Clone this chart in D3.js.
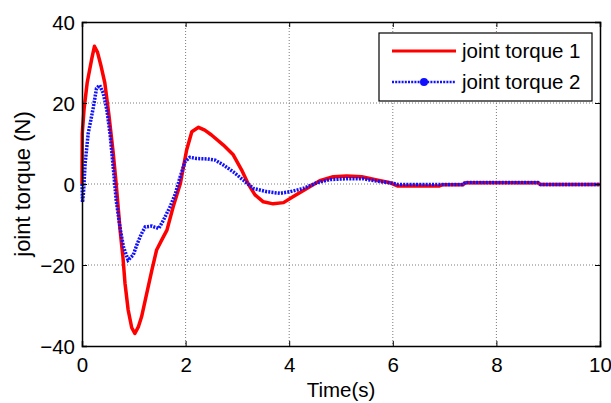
<!DOCTYPE html>
<html>
<head>
<meta charset="utf-8">
<script src="https://cdn.jsdelivr.net/npm/d3@7"></script>
<style>
  html, body { margin: 0; padding: 0; background: #fff; }
  svg { display: block; font-family: Arial, "Liberation Sans", sans-serif; }
</style>
</head>
<body>
<svg id="chart" width="611" height="403"></svg>
<script>
// Joint torque 1 samples (time in s, torque in N)
const time1 = [0, 0.005, 0.04, 0.1, 0.19, 0.24, 0.3, 0.37, 0.44, 0.52, 0.6, 0.66, 0.7, 0.74, 0.79, 0.83, 0.89, 0.96, 1.02, 1.09, 1.15, 1.25, 1.35, 1.44, 1.54, 1.64, 1.76, 1.9, 2.02, 2.12, 2.25, 2.37, 2.5, 2.73, 2.92, 3.08, 3.21, 3.34, 3.5, 3.69, 3.89, 4.08, 4.34, 4.59, 4.85, 5.11, 5.4, 5.69, 5.95, 6.1, 6.9, 6.95, 7.35, 7.4, 8.8, 8.85, 10];
const torque1 = [0, 12.5, 18.5, 25, 31, 34, 32.5, 29, 25, 17, 8, 0, -6, -12, -18, -24.5, -31, -35.5, -36.9, -35.2, -32.8, -27, -21.2, -16.3, -13.8, -11.4, -5.6, 0.2, 8.4, 12.9, 14, 13.3, 12.1, 9.6, 7.2, 3.5, 0, -2.7, -4.4, -4.9, -4.6, -3.1, -1.1, 0.8, 1.8, 2.0, 1.8, 1.0, 0.3, -0.5, -0.5, -0.2, -0.2, 0.3, 0.3, -0.1, -0.1];

// Joint torque 2 samples
const time2 = [0, 0.01, 0.03, 0.06, 0.12, 0.22, 0.28, 0.34, 0.41, 0.48, 0.54, 0.6, 0.66, 0.73, 0.8, 0.89, 0.99, 1.06, 1.14, 1.22, 1.35, 1.48, 1.57, 1.7, 1.8, 1.9, 1.99, 2.08, 2.21, 2.41, 2.57, 2.73, 2.92, 3.11, 3.31, 3.57, 3.82, 4.02, 4.27, 4.53, 4.79, 5.11, 5.43, 5.69, 5.95, 6.1, 7.35, 7.4, 8.8, 8.85, 10];
const torque2 = [0, -4.5, -2, 5, 12.5, 19, 23.6, 24.4, 22.4, 18.3, 12.5, 4.5, -4, -10.5, -15.5, -18.8, -17.5, -15, -12.5, -10.6, -10.4, -11, -9, -5.6, -2.5, 2, 5.5, 6.6, 6.3, 6.2, 5.9, 4.7, 3.0, 1, -1.1, -1.9, -2.3, -1.9, -1.1, 0.3, 1.1, 1.3, 1.3, 0.7, 0.3, -0.1, -0.1, 0.4, 0.4, -0.1, -0.1];

const xTicks = [0, 2, 4, 6, 8, 10];
const yTicks = [-40, -20, 0, 20, 40];
const seriesNames = ["joint torque 1", "joint torque 2"];

const W = 611, H = 403;
const margin = { left: 82, right: 11, top: 22, bottom: 57 };
const iw = W - margin.left - margin.right;
const ih = H - margin.top - margin.bottom;

const svg = d3.select("#chart");
const g = svg.append("g").attr("transform", `translate(${margin.left},${margin.top})`);

const x = d3.scaleLinear().domain([0, 10]).range([0, iw]);
const y = d3.scaleLinear().domain([-40, 40]).range([ih, 0]);

// background of the plotting area
g.append("rect").attr("width", iw).attr("height", ih).attr("fill", "#fff");

// dotted grid
g.append("g").selectAll("line").data(xTicks.slice(1, -1)).join("line")
  .attr("x1", d => x(d)).attr("x2", d => x(d)).attr("y1", 0).attr("y2", ih)
  .attr("stroke", "#7a7a7a").attr("stroke-width", 1).attr("stroke-dasharray", "1,2");
g.append("g").selectAll("line").data(yTicks.slice(1, -1)).join("line")
  .attr("y1", d => y(d)).attr("y2", d => y(d)).attr("x1", 0).attr("x2", iw)
  .attr("stroke", "#7a7a7a").attr("stroke-width", 1).attr("stroke-dasharray", "1,2");

// series lines
const line = d3.line().x(d => x(d[0])).y(d => y(d[1]));
g.append("clipPath").attr("id", "plotclip").append("rect")
  .attr("x", -2).attr("y", -2).attr("width", iw + 4).attr("height", ih + 4);

g.append("path")
  .datum(time1.map((t, i) => [t, torque1[i]]))
  .attr("d", line).attr("fill", "none")
  .attr("stroke", "#ff0000").attr("stroke-width", 3.5)
  .attr("stroke-linejoin", "round")
  .attr("clip-path", "url(#plotclip)");

g.append("path")
  .datum(time2.map((t, i) => [t, torque2[i]]))
  .attr("d", line).attr("fill", "none")
  .attr("stroke", "#1010ff").attr("stroke-width", 3.5)
  .attr("stroke-dasharray", "2,1.2")
  .attr("clip-path", "url(#plotclip)");

// axes with inward ticks on all four sides
const tickLen = 5;
const fontSize = 20.5;
const xAxis = g.append("g").attr("transform", `translate(0,${ih})`)
  .call(d3.axisBottom(x).tickValues(xTicks).tickSize(-tickLen).tickPadding(11).tickFormat(d3.format("d")));
const xAxisTop = g.append("g")
  .call(d3.axisTop(x).tickValues(xTicks).tickSize(-tickLen).tickFormat(""));
const yAxis = g.append("g")
  .call(d3.axisLeft(y).tickValues(yTicks).tickSize(-tickLen).tickPadding(7).tickFormat(d3.format("d")));
const yAxisRight = g.append("g").attr("transform", `translate(${iw},0)`)
  .call(d3.axisRight(y).tickValues(yTicks).tickSize(-tickLen).tickFormat(""));

[xAxis, xAxisTop, yAxis, yAxisRight].forEach(a => {
  a.select(".domain").attr("stroke", "#000").attr("stroke-width", 1.5);
  a.selectAll(".tick line").attr("stroke", "#000");
  a.selectAll("text").attr("fill", "#000").style("font-size", fontSize + "px")
    .style("font-family", "Arial, 'Liberation Sans', sans-serif");
});
yAxis.selectAll("text").attr("dy", "0.36em");

// axis titles
svg.append("text")
  .attr("x", margin.left + iw / 2).attr("y", 397)
  .attr("text-anchor", "middle").style("font-size", fontSize + "px")
  .text("Time(s)");
svg.append("text")
  .attr("transform", `translate(30,${margin.top + ih / 2}) rotate(-90)`)
  .attr("text-anchor", "middle").style("font-size", "22px")
  .text("joint torque (N)");

// legend
const lg = svg.append("g").attr("transform", "translate(379,33)");
lg.append("rect").attr("width", 213).attr("height", 68)
  .attr("fill", "#fff").attr("stroke", "#000").attr("stroke-width", 1.2);
const rows = [
  { name: seriesNames[0], color: "#ff0000", dash: null, marker: false },
  { name: seriesNames[1], color: "#1010ff", dash: "2,1.2", marker: true }
];
rows.forEach((r, i) => {
  const yy = 18 + i * 31;
  lg.append("line").attr("x1", 13).attr("x2", 77).attr("y1", yy).attr("y2", yy)
    .attr("stroke", r.color).attr("stroke-width", r.marker ? 2.5 : 3)
    .attr("stroke-dasharray", r.dash);
  if (r.marker) {
    lg.append("circle").attr("cx", 45).attr("cy", yy).attr("r", 4).attr("fill", r.color);
  }
  lg.append("text").attr("x", 83).attr("y", yy).attr("dy", "0.36em")
    .style("font-size", fontSize + "px").text(r.name);
});
</script>
</body>
</html>
